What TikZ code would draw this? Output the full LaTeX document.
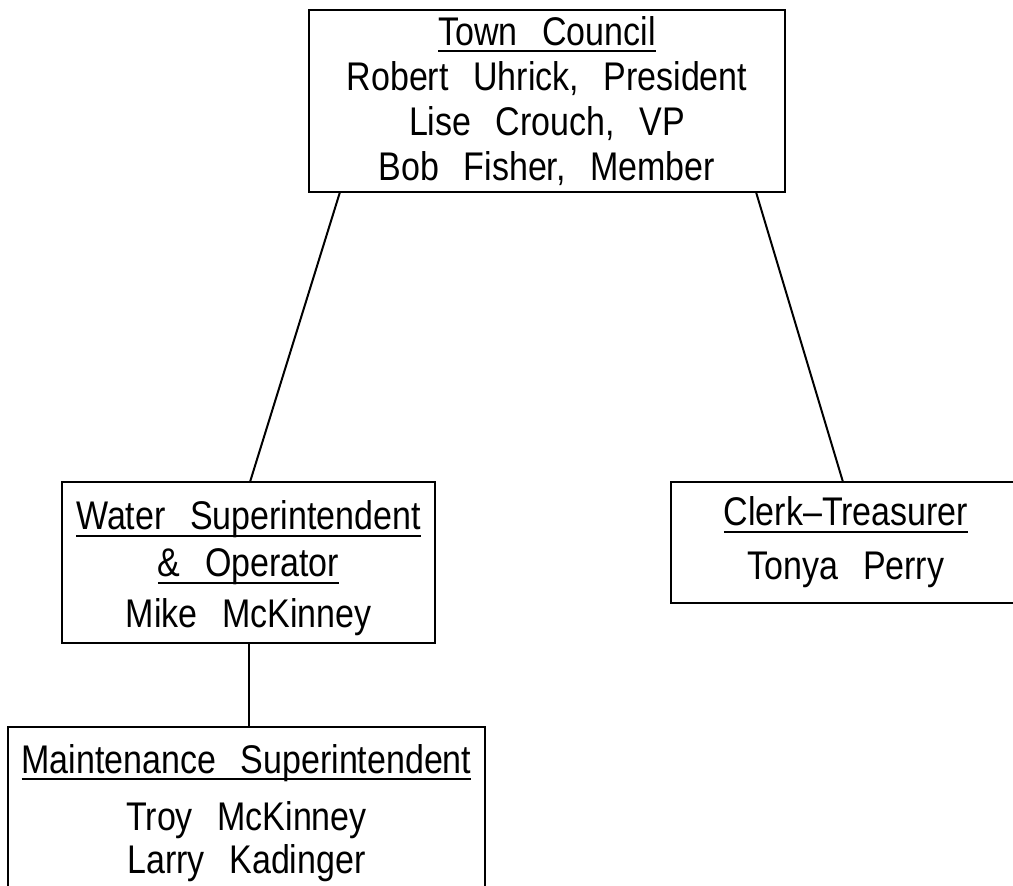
\documentclass[tikz,border=0pt]{standalone}
\usepackage{fontspec}
\setmainfont{Liberation Sans}[FakeStretch=0.85, WordSpace=2.6]
\newcommand\ulin[1]{\setbox0\hbox{#1}\rlap{\rule[-7pt]{\wd0}{2pt}}\box0}
\tikzset{
  orgbox/.style={draw, line width=2.5pt, rectangle, inner sep=0pt, outer sep=0pt, align=center},
  link/.style={line width=2pt}
}
\begin{document}
\begin{tikzpicture}[x=1pt, y=-1pt]
\clip (0,0) rectangle (1013,886);
\fill[white] (0,0) rectangle (1013,886);
\node[orgbox, minimum width=476pt, minimum height=182pt, font=\fontsize{40}{45}\selectfont] (tc) at (547,101)
  {\ulin{Town Council}\\Robert Uhrick, President\\Lise Crouch, VP\\Bob Fisher, Member};
\node[orgbox, minimum width=373pt, minimum height=161pt, font=\fontsize{40}{47}\selectfont] (ws) at (248.5,562.5)
  {\rule{0pt}{41pt}\ulin{Water Superintendent}\\\ulin{\& Operator}\\[4pt]Mike McKinney};
\node[orgbox, minimum width=350pt, minimum height=121pt, font=\fontsize{40}{54}\selectfont] (ct) at (846,542.5)
  {\ulin{Clerk–Treasurer}\\Tonya Perry};
\node[orgbox, minimum width=477pt, minimum height=172pt, font=\fontsize{40}{43}\selectfont] (ms) at (246.5,813)
  {\ulin{Maintenance Superintendent}\\[14pt]Troy McKinney\\Larry Kadinger};
\draw[link] ([xshift=31pt]tc.south west) -- ([xshift=1.5pt]ws.north);
\draw[link] ([xshift=-29pt]tc.south east) -- ([xshift=-3pt]ct.north);
\draw[link] (ws.south) -- (ws.south |- ms.north);
\end{tikzpicture}
\end{document}
